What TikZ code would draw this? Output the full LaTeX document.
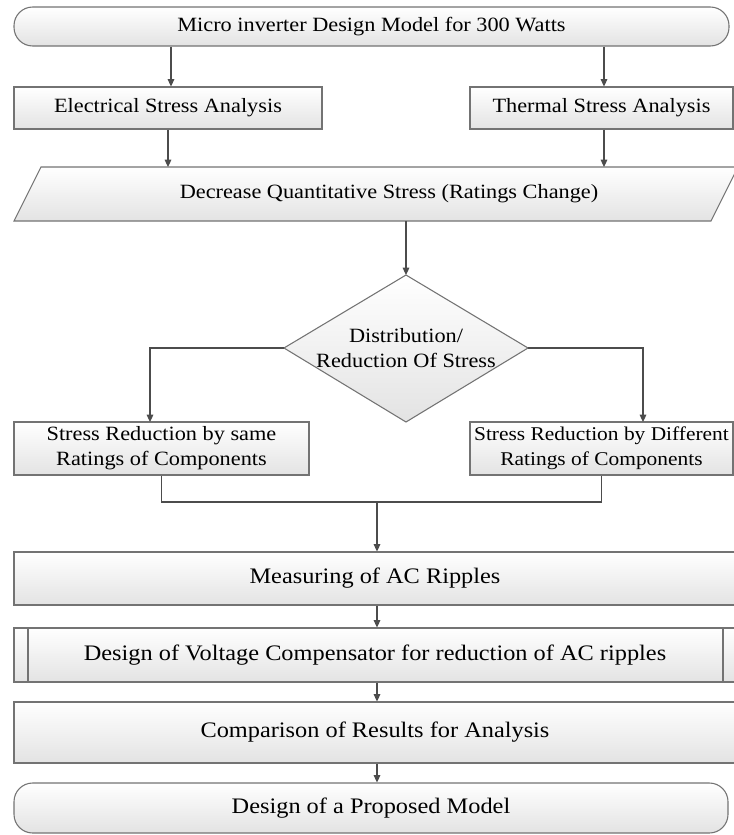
\documentclass[tikz,border=0pt]{standalone}
\usepackage{fontspec}
\setmainfont{Liberation Serif}[FakeStretch=1.1]
\usetikzlibrary{arrows.meta}
\begin{document}
\begin{tikzpicture}[x=0.75pt,y=-0.75pt,
  shadefill/.style={top color=white,bottom color=black!11,draw=black!55,line width=0.8pt},
  boxnode/.style={shadefill,rectangle,inner sep=0pt,align=center,font=\fontsize{15.2}{18.75}\selectfont},
  bignode/.style={boxnode,font=\fontsize{16.6}{20}\selectfont},
  termnode/.style={boxnode,rounded corners=14pt},
  txt/.style={inner sep=0pt,align=center,font=\fontsize{15.2}{18.75}\selectfont},
  arr/.style={draw=black!70,line width=0.8pt,-{Triangle[width=5pt,length=5.5pt]}},
  conn/.style={draw=black!70,line width=0.8pt}]
\useasboundingbox (0,0) rectangle (734,835);
% top terminator
\node[termnode,minimum width=536.25pt,minimum height=29.25pt] (top) at (371.5,26.5) {Micro inverter Design Model for 300 Watts};
\node[boxnode,minimum width=231pt,minimum height=31.5pt] (elec) at (168,108) {Electrical Stress Analysis};
\node[boxnode,minimum width=197.25pt,minimum height=31.5pt] (therm) at (601.5,108) {Thermal Stress Analysis};
% parallelogram
\draw[shadefill] (14,221) -- (41,167) -- (738,167) -- (711,221) -- cycle;
\coordinate (pT) at (389,167);
\coordinate (pB) at (406,221);
\node[txt] (dec) at (389,194) {Decrease Quantitative Stress (Ratings Change)};
% diamond
\draw[shadefill] (406,275) -- (528,348) -- (406,422) -- (284,348) -- cycle;
\coordinate (diaT) at (406,275);
\coordinate (diaL) at (284,348);
\coordinate (diaR) at (528,348);
\node[txt] (dia) at (406,348) {Distribution/\\Reduction Of Stress};
% stress reduction boxes
\node[boxnode,minimum width=221.25pt,minimum height=39.75pt] (sr1) at (161.5,448.5) {Stress Reduction by same\\Ratings of Components};
\node[boxnode,font=\fontsize{14.6}{18.75}\selectfont,minimum width=197.25pt,minimum height=39.75pt] (sr2) at (601.5,448.5) {Stress Reduction by Different\\Ratings of Components};
\coordinate (b1) at (150,422);
\coordinate (b2) at (643,422);
\coordinate (mj) at (377,502);
% lower boxes
\node[bignode,minimum width=541.5pt,minimum height=39.75pt] (meas) at (375,578.5) {Measuring of AC Ripples};
\node[bignode,minimum width=541.5pt,minimum height=40.5pt] (vcomp) at (375,655) {Design of Voltage Compensator for reduction of AC ripples};
\draw[draw=black!55,line width=0.8pt] (28,628) -- (28,682) (723,628) -- (723,682);
\node[bignode,minimum width=541.5pt,minimum height=45.75pt] (cmp) at (375,732.5) {Comparison of Results for Analysis};
\node[bignode,rounded corners=14pt,minimum width=535.5pt,minimum height=37.5pt] (fin) at (371,808) {Design of a Proposed Model};
% connectors
\draw[arr] (top.south -| 171,0) -- (elec.north -| 171,0);
\draw[arr] (top.south -| 604,0) -- (therm.north -| 604,0);
\draw[arr] (elec.south) -- (elec.south |- pT);
\draw[arr] (therm.south -| 604,0) -- (pT -| 604,0);
\draw[arr] (pB) -- (diaT);
\draw[arr] (diaL) -| (b1);
\draw[arr] (diaR) -| (b2);
\draw[conn] (sr1.south) |- (mj) -| (sr2.south);
\draw[arr] (mj) -- (mj |- meas.north);
\draw[arr] (meas.south -| mj) -- (vcomp.north -| mj);
\draw[arr] (vcomp.south -| mj) -- (cmp.north -| mj);
\draw[arr] (cmp.south -| mj) -- (fin.north -| mj);
\end{tikzpicture}
\end{document}
